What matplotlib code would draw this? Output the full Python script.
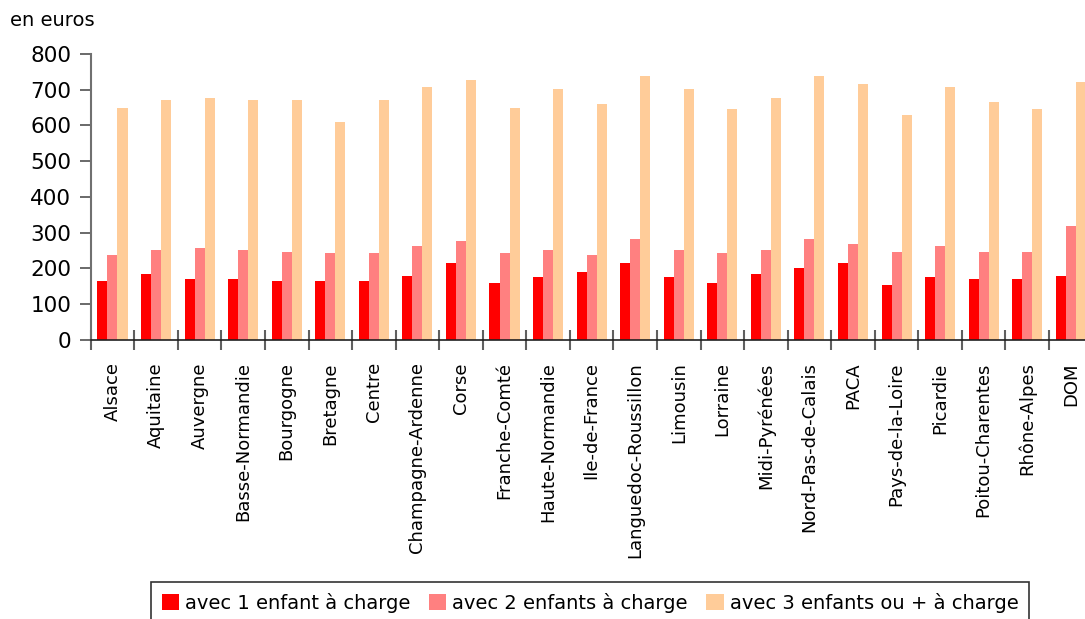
import numpy as np
import matplotlib
matplotlib.use('Agg')
import matplotlib.pyplot as plt

#data (en euros)
regions = ['Alsace', 'Aquitaine', 'Auvergne', 'Basse-Normandie', 'Bourgogne', 'Bretagne',
           'Centre', 'Champagne-Ardenne', 'Corse', 'Franche-Comté', 'Haute-Normandie',
           'Ile-de-France', 'Languedoc-Roussillon', 'Limousin', 'Lorraine', 'Midi-Pyrénées',
           'Nord-Pas-de-Calais', 'PACA', 'Pays-de-la-Loire', 'Picardie', 'Poitou-Charentes',
           'Rhône-Alpes', 'DOM']
enfant1 = [166, 185, 171, 171, 165, 165, 165, 179, 215, 159, 176, 190, 215, 176, 159,
           185, 201, 215, 154, 176, 171, 171, 179]
enfant2 = [238, 252, 257, 252, 246, 243, 243, 263, 277, 243, 252, 238, 283, 252, 243,
           252, 283, 269, 246, 263, 246, 246, 319]
enfant3 = [649, 671, 677, 671, 671, 610, 671, 708, 727, 649, 702, 660, 738, 702, 646,
           677, 738, 716, 629, 708, 666, 646, 722]
series_labels = ['avec 1 enfant à charge', 'avec 2 enfants à charge', 'avec 3 enfants ou + à charge']
colors = ['#FF0000', '#FF8080', '#FFCC99']

fig = plt.figure(figsize=(10.85, 6.19), dpi=100)
ax = fig.add_axes([90.7/1085, 1-340/619, 1001.9/1085, 286/619])

x = np.arange(len(regions))
w = 0.23
for k, vals in enumerate([enfant1, enfant2, enfant3]):
    ax.bar(x + (k-1)*w, vals, w, color=colors[k], label=series_labels[k], linewidth=0)

ax.set_xlim(-0.5, len(regions)-0.5)
ax.set_ylim(0, 800)
ax.set_yticks(range(0, 801, 100))
ax.tick_params(axis='y', direction='out', length=8, width=1.2, color='#505050',
               labelsize=15.5, pad=6)

#tick marks between categories (major), labels at centres (minor)
ax.set_xticks(np.arange(len(regions)+1) - 0.5)
ax.set_xticklabels([])
ax.tick_params(axis='x', which='major', direction='inout', length=14, width=1.5, color='#606060')
ax.set_xticks(x, minor=True)
ax.set_xticklabels(regions, minor=True, rotation=90, fontsize=13)
ax.tick_params(axis='x', which='minor', length=0, pad=16)

for s in ['top', 'right']:
    ax.spines[s].set_visible(False)
ax.spines['left'].set_color('#707070')
ax.spines['left'].set_linewidth(1.5)
ax.spines['bottom'].set_color('#202020')
ax.spines['bottom'].set_linewidth(1.2)

fig.text(10/1085, 1-20/619, 'en euros', fontsize=14, va='center', ha='left')

leg = fig.legend(loc='upper left', bbox_to_anchor=(151/1085, 1-582/619), ncol=3,
                 fontsize=14, frameon=True, fancybox=False, edgecolor='black',
                 handlelength=0.9, handleheight=0.9, handletextpad=0.3,
                 columnspacing=0.95, borderpad=0.55, borderaxespad=0)
leg.get_frame().set_linewidth(1.2)

fig.savefig('out.png', dpi=100)
